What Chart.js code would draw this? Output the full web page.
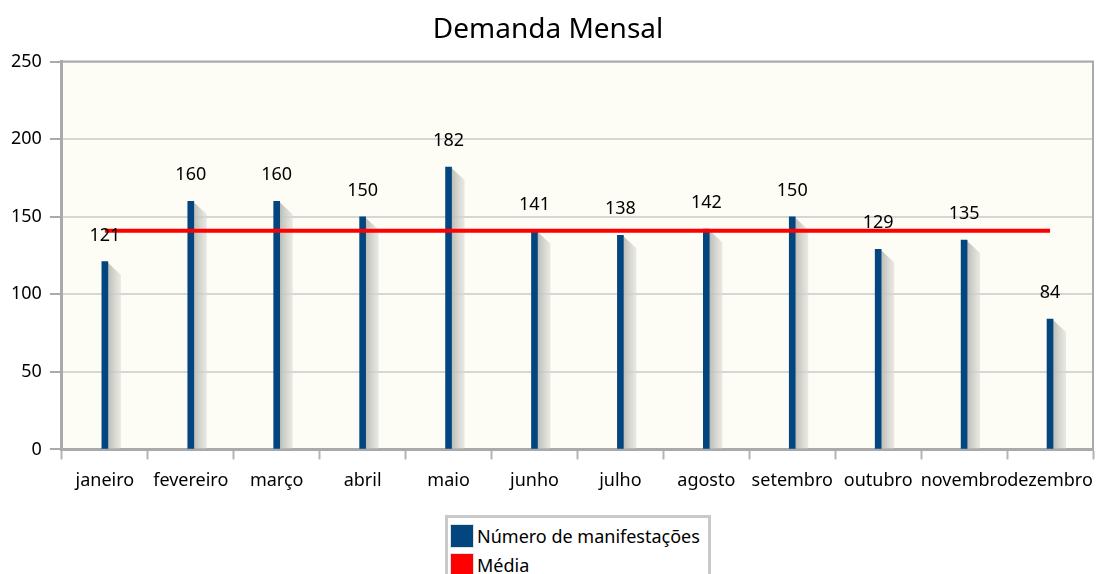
<!DOCTYPE html>
<html>
<head>
<meta charset="utf-8">
<script src="https://cdn.jsdelivr.net/npm/chart.js@4/dist/chart.umd.min.js"></script>
<style>
    html, body { margin: 0; padding: 0; background: #fff; }
    #wrap { position: relative; width: 1098px; height: 574px; overflow: hidden; }
    #legenda {
        position: absolute; left: 445px; top: 515px; width: 258px;
        border: 3px solid #c9c9c9; background: #fff; padding: 3px 0 0 2px;
        font: 18px "Noto Sans", sans-serif; color: #000;
    }
    #legenda div { display: flex; align-items: center; height: 29px; }
    #legenda span.box { width: 24px; height: 24px; box-sizing: border-box; border: 1px solid #e0e0e0; margin-right: 3px; }
</style>
</head>
<body>
<div id="wrap">
    <canvas id="grafico" width="1098" height="574"></canvas>
    <div id="legenda"></div>
</div>
<script>
// dados do gráfico
const meses = ['janeiro', 'fevereiro', 'março', 'abril', 'maio', 'junho', 'julho', 'agosto', 'setembro', 'outubro', 'novembro', 'dezembro'];
const manifestacoes = [121, 160, 160, 150, 182, 141, 138, 142, 150, 129, 135, 84];
const media = [141, 141, 141, 141, 141, 141, 141, 141, 141, 141, 141, 141];
const eixoY = { min: 0, max: 250, passo: 50 };

const corBarra = '#03457f';
const corMedia = '#ff0000';
const fonte = '"Noto Sans", sans-serif';

// fundo creme da área do gráfico + moldura
const fundoPlugin = {
    id: 'fundo',
    beforeDraw(chart) {
        const { ctx, chartArea: a } = chart;
        ctx.save();
        ctx.fillStyle = '#fdfcf5';
        ctx.fillRect(a.left, a.top, a.right - a.left, a.bottom - a.top);
        ctx.restore();
    },
    afterDraw(chart) {
        const { ctx, chartArea: a } = chart;
        ctx.save();
        ctx.strokeStyle = '#aaaaaa';
        ctx.lineWidth = 2;
        ctx.beginPath();
        ctx.moveTo(a.left, a.top);
        ctx.lineTo(a.right, a.top);
        ctx.lineTo(a.right, a.bottom);
        ctx.stroke();
        ctx.restore();
    }
};

// sombra cinza à direita de cada barra
const sombraPlugin = {
    id: 'sombra',
    beforeDatasetsDraw(chart) {
        const { ctx, chartArea: a } = chart;
        const meta = chart.getDatasetMeta(0);
        ctx.save();
        ctx.beginPath();
        ctx.rect(a.left, a.top, a.right - a.left, a.bottom - a.top);
        ctx.clip();
        meta.data.forEach(bar => {
            const dir = bar.x + bar.width / 2;
            const g = ctx.createLinearGradient(dir, 0, dir + 13, 0);
            g.addColorStop(0, 'rgba(185,185,180,0.95)');
            g.addColorStop(1, 'rgba(220,220,215,0.6)');
            ctx.fillStyle = g;
            ctx.beginPath();
            ctx.moveTo(dir, bar.y + 1);
            ctx.lineTo(dir + 13, bar.y + 13);
            ctx.lineTo(dir + 13, bar.base);
            ctx.lineTo(dir, bar.base);
            ctx.closePath();
            ctx.fill();
        });
        ctx.restore();
    }
};

// rótulos de valor acima das barras
const rotulosPlugin = {
    id: 'rotulos',
    afterDatasetsDraw(chart) {
        const { ctx } = chart;
        const meta = chart.getDatasetMeta(0);
        ctx.save();
        ctx.font = '18px ' + fonte;
        ctx.fillStyle = '#000';
        ctx.textAlign = 'center';
        ctx.textBaseline = 'alphabetic';
        meta.data.forEach((bar, i) => {
            ctx.fillText(manifestacoes[i], bar.x, bar.y - 21);
        });
        ctx.restore();
    }
};

const ctx = document.getElementById('grafico').getContext('2d');
const grafico = new Chart(ctx, {
    type: 'bar',
    data: {
        labels: meses,
        datasets: [{
            type: 'bar',
            label: 'Número de manifestações',
            data: manifestacoes,
            backgroundColor: corBarra,
            barThickness: 6,
            order: 1
        }, {
            type: 'line',
            label: 'Média',
            data: media,
            borderColor: corMedia,
            backgroundColor: corMedia,
            borderWidth: 4,
            pointRadius: 0,
            tension: 0,
            order: 0
        }]
    },
    options: {
        responsive: false,
        animation: false,
        layout: { padding: { left: 3, right: 5, top: 0, bottom: 71 } },
        plugins: {
            legend: { display: false },
            tooltip: { enabled: false },
            title: {
                display: true,
                text: 'Demanda Mensal',
                color: '#000',
                font: { family: fonte, size: 28, weight: 'normal' },
                padding: { top: 13, bottom: 15 }
            }
        },
        scales: {
            x: {
                offset: true,
                afterFit(scale) {
                    // rótulos podem encostar na borda direita
                    scale.paddingLeft = 0;
                    scale.paddingRight = 0;
                },
                grid: {
                    display: true,
                    drawOnChartArea: false,
                    offset: true,
                    tickLength: 10,
                    tickColor: '#b4b4b4',
                    tickWidth: 2
                },
                border: { display: true, color: '#aaaaaa', width: 3 },
                ticks: {
                    autoSkip: false,
                    maxRotation: 0,
                    minRotation: 0,
                    padding: 11,
                    color: '#000',
                    font: { family: fonte, size: 18 }
                }
            },
            y: {
                min: eixoY.min,
                max: eixoY.max,
                grid: {
                    color: '#d6d6d6',
                    lineWidth: 2,
                    tickLength: 12,
                    tickColor: '#aaaaaa',
                    tickWidth: 2
                },
                border: { display: true, color: '#aaaaaa', width: 3 },
                ticks: {
                    stepSize: eixoY.passo,
                    padding: 8,
                    color: '#000',
                    font: { family: fonte, size: 18 }
                }
            }
        }
    },
    plugins: [fundoPlugin, sombraPlugin, rotulosPlugin]
});

// legenda em caixa, montada a partir dos datasets
const legenda = document.getElementById('legenda');
grafico.data.datasets.forEach(ds => {
    const linha = document.createElement('div');
    const caixa = document.createElement('span');
    caixa.className = 'box';
    caixa.style.background = ds.type === 'line' ? ds.borderColor : ds.backgroundColor;
    linha.appendChild(caixa);
    linha.appendChild(document.createTextNode(ds.label));
    legenda.appendChild(linha);
});
</script>
</body>
</html>
